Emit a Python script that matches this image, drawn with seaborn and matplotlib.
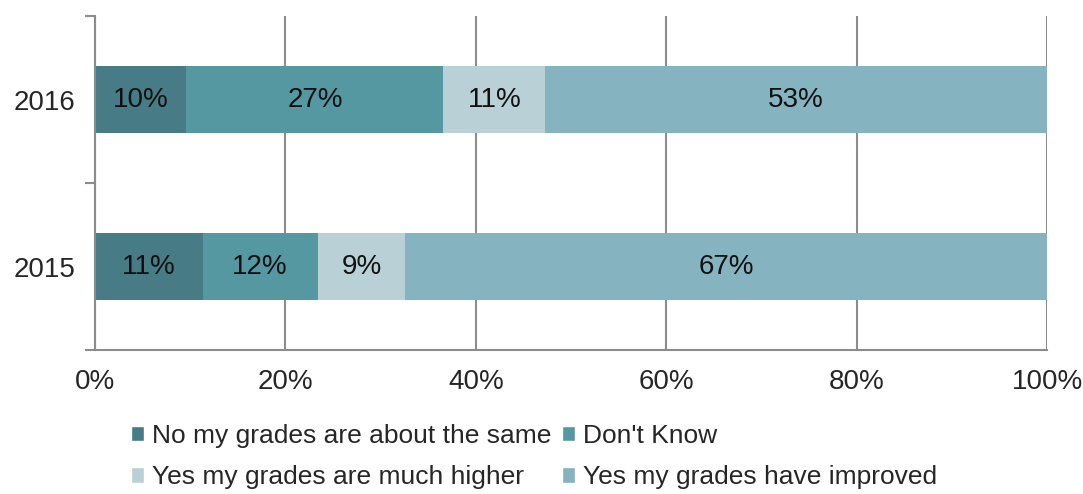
import numpy as np
import pandas as pd
import matplotlib
matplotlib.use("Agg")
import matplotlib.pyplot as plt
import seaborn as sns
from matplotlib.patches import Patch
from matplotlib.ticker import FixedLocator, PercentFormatter

years = ["2016", "2015"]
responses = [
    "No my grades are about the same",
    "Don't Know",
    "Yes my grades are much higher",
    "Yes my grades have improved",
]
# share of respondents (%), per year, in response order
share_2016 = [9.6, 27.0, 10.7, 52.7]
share_2015 = [11.3, 12.1, 9.2, 67.4]
colors = ["#477c86", "#5598a2", "#b8d0d6", "#85b3bf"]

sns.set_style("white")
plt.rcParams["font.family"] = ["Liberation Sans", "DejaVu Sans"]

df = pd.DataFrame([share_2016, share_2015], index=years, columns=responses)
cum = df.cumsum(axis=1)

fig = plt.figure(figsize=(10.83, 4.94), dpi=100)
ax = fig.add_axes([0.0877, 0.2915, 0.8791, 0.6761])

grid_c = "#8c8c8c"
for x in range(0, 101, 20):
    ax.axvline(x, color=grid_c, lw=1.5, zorder=0)

# draw cumulative totals from the widest down so segments stack
for i in range(len(responses) - 1, -1, -1):
    d = pd.DataFrame({"year": years, "val": cum[responses[i]].values})
    sns.barplot(data=d, x="val", y="year", order=years, orient="h",
                color=colors[i], width=0.4, saturation=1, ax=ax, zorder=2,
                linewidth=0, edgecolor="none")

for yi, yr in enumerate(years):
    left = 0
    for r in responses:
        v = df.loc[yr, r]
        ax.text(left + v / 2, yi, f"{round(v):.0f}%", ha="center", va="center",
                fontsize=20, color="#111111", zorder=3)
        left += v

ax.set_xlim(0, 100)
ax.set_ylim(1.5, -0.5)
ax.set_xlabel("")
ax.set_ylabel("")
ax.xaxis.set_major_locator(FixedLocator(range(0, 101, 20)))
ax.xaxis.set_major_formatter(PercentFormatter(100, decimals=0))
ax.tick_params(axis="x", length=7, width=1.5, color=grid_c, labelsize=20, pad=7)
ax.tick_params(axis="y", which="major", length=0, labelsize=20, pad=14)
ax.yaxis.set_minor_locator(FixedLocator([-0.5, 0.5, 1.5]))
ax.tick_params(axis="y", which="minor", length=7, width=1.5, color=grid_c, left=True)

for s in ["top", "right"]:
    ax.spines[s].set_visible(False)
for s in ["left", "bottom"]:
    ax.spines[s].set_color(grid_c)
    ax.spines[s].set_linewidth(1.5)

handles = [Patch(facecolor=c, label=r) for c, r in zip(colors, responses)]
order = [0, 2, 1, 3]
fig.legend([handles[i] for i in order], [responses[i] for i in order],
           ncol=2, loc="lower left", bbox_to_anchor=(0.111, -0.012), frameon=False,
           fontsize=19, handlelength=0.5, handleheight=0.5, handletextpad=0.3,
           columnspacing=0.4, labelspacing=0.66, borderaxespad=0)

fig.savefig("out.png", dpi=100)
